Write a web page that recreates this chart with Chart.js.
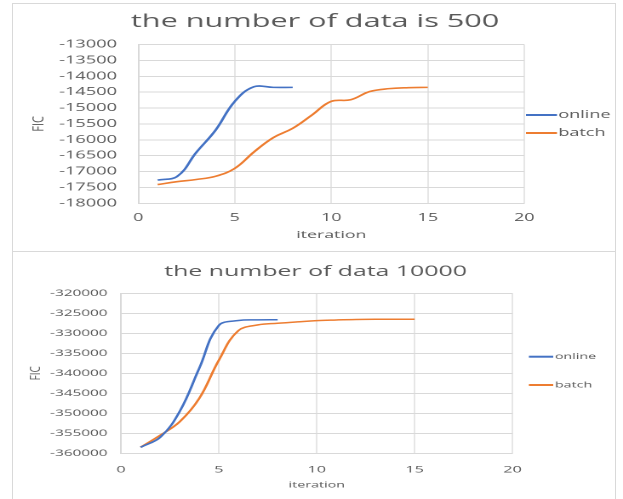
<!DOCTYPE html>
<html><head><meta charset="utf-8">
<script src="https://cdn.jsdelivr.net/npm/chart.js@4.4.1/dist/chart.umd.min.js"></script>
<style>
html,body{margin:0;padding:0;background:#fff;width:623px;height:499px;overflow:hidden;}
.wrap{position:absolute;left:0;width:366px;transform:scaleX(1.70219);transform-origin:0 0;}
#w1{top:0;height:252px}
#w2{top:252px;height:247px}
.frame{position:absolute;left:12px;top:3px;width:602px;height:520px;border:1px solid #d9d9d9;pointer-events:none}
.sep{position:absolute;left:12px;top:251px;width:604px;height:1px;background:#d9d9d9;pointer-events:none}
</style></head>
<body>
<div class="wrap" id="w1"><canvas id="c1" width="366" height="252"></canvas></div>
<div class="wrap" id="w2"><canvas id="c2" width="366" height="247"></canvas></div>
<div class="frame"></div><div class="sep"></div>
<script>
const SX = 623 / 366;
const seriesNames = ['online', 'batch'];
const seriesColors = ['#4472C4', '#ED7D31'];
const iterOnline = [1, 2, 3, 4, 5, 6, 7, 8];
const iterBatch = [1, 2, 3, 4, 5, 6, 7, 8, 9, 10, 11, 12, 13, 14, 15];
const fic500Online = [-17270, -17160, -16400, -15700, -14790, -14330, -14350, -14350];
const fic500Batch = [-17410, -17320, -17250, -17150, -16900, -16380, -15930, -15640, -15220, -14790, -14740, -14480, -14390, -14360, -14350];
const fic10000Online = [-358500, -356000, -349500, -338700, -328000, -326800, -326650, -326600];
const fic10000Batch = [-358500, -355500, -352100, -346250, -336700, -329300, -327900, -327500, -327150, -326830, -326670, -326550, -326500, -326500, -326500];
const xTicks = [0, 5, 10, 15, 20];
const yTicks500 = [-18000, -17500, -17000, -16500, -16000, -15500, -15000, -14500, -14000, -13500, -13000];
const yTicks10000 = [-360000, -355000, -350000, -345000, -340000, -335000, -330000, -325000, -320000];
const chartTitles = ['the number of data is 500', 'the number of data 10000'];
const xTitle = 'iteration';
const yTitle = 'FIC';

const TXT = '#595959', GRID = '#d9d9d9';
Chart.defaults.font.family = '"Open Sans", sans-serif';

const decor = {
  id: 'decor',
  afterDraw(chart, args, o) {
    const ctx = chart.ctx, ca = chart.chartArea;
    ctx.save();
    ctx.fillStyle = TXT;
    ctx.textAlign = 'center'; ctx.textBaseline = 'middle';
    ctx.font = o.titleSize + 'px "Open Sans"';
    ctx.fillText(o.title, o.titleX, o.titleY);
    chart.data.datasets.forEach((ds, i) => {
      const y = o.legendY[i];
      ctx.strokeStyle = ds.borderColor; ctx.lineWidth = 2;
      ctx.beginPath(); ctx.moveTo(o.legendX, y); ctx.lineTo(o.legendX + o.legendLen, y); ctx.stroke();
      ctx.textAlign = 'left';
      ctx.font = o.legendSize + 'px "Open Sans"';
      ctx.fillText(ds.label, o.legendX + o.legendLen + o.legendGap, y);
    });
    ctx.translate(o.ficX, (ca.top + ca.bottom) / 2);
    ctx.scale(1 / 1.25, 1);
    ctx.rotate(-Math.PI / 2);
    ctx.textAlign = 'center';
    ctx.font = o.ficSize + 'px "Open Sans"';
    ctx.fillText(yTitle, 0, 0);
    ctx.restore();
  }
};

function makeChart(id, c) {
  const mk = (xs, ys, i) => ({
    label: seriesNames[i],
    data: xs.map((x, k) => ({x: x, y: ys[k]})),
    borderColor: seriesColors[i], backgroundColor: seriesColors[i],
    borderWidth: c.lw, pointRadius: 0, tension: 0.4, fill: false
  });
  return new Chart(document.getElementById(id), {
    type: 'line',
    data: { datasets: [mk(iterOnline, c.online, 0), mk(iterBatch, c.batch, 1)] },
    options: {
      responsive: false, animation: false, devicePixelRatio: 2,
      layout: { padding: { left: 0, right: c.padRight, top: c.padTop, bottom: 0 } },
      plugins: { legend: { display: false }, tooltip: { enabled: false }, decor: c.decor },
      scales: {
        x: {
          type: 'linear', min: xTicks[0], max: xTicks[xTicks.length - 1],
          afterBuildTicks: s => { s.ticks = xTicks.map(v => ({value: v})); },
          afterFit: s => { s.height = c.xAxisH; },
          grid: { color: GRID, lineWidth: 0.65, drawTicks: false },
          border: { color: GRID, width: 0.65 },
          ticks: { color: TXT, font: { size: c.xTickSize }, padding: c.xTickPad, maxRotation: 0 },
          title: { display: true, text: xTitle, color: TXT, font: { size: c.xTitleSize }, padding: { top: 0, bottom: c.xTitlePad } }
        },
        y: {
          type: 'linear', min: c.yTicks[0], max: c.yTicks[c.yTicks.length - 1],
          afterBuildTicks: s => { s.ticks = c.yTicks.map(v => ({value: v})); },
          afterFit: s => { s.width = c.yAxisW; },
          grid: { color: GRID, lineWidth: 1, drawTicks: false },
          border: { color: GRID },
          ticks: { color: TXT, font: { size: c.yTickSize }, padding: c.yTickPad, callback: v => String(v) }
        }
      }
    },
    plugins: [decor]
  });
}

makeChart('c1', {
  online: fic500Online, batch: fic500Batch, yTicks: yTicks500, lw: 1.6,
  padRight: 58, padTop: 44.5, xAxisH: 48.7, yAxisW: 81.25,
  xTickSize: 10.5, xTickPad: 8.5, yTickSize: 10.7, yTickPad: 12.5,
  xTitleSize: 10.4, xTitlePad: 10.75,
  decor: { title: chartTitles[0], titleX: 185.1, titleY: 22, titleSize: 18,
           legendX: 309.0, legendLen: 18.2, legendGap: 0.8, legendY: [115, 133], legendSize: 10.6,
           ficX: 22.8, ficSize: 11 }
});
makeChart('c2', {
  online: fic10000Online, batch: fic10000Batch, yTicks: yTicks10000, lw: 1.5,
  padRight: 64.9, padTop: 41.3, xAxisH: 45.7, yAxisW: 71.1,
  xTickSize: 9.5, xTickPad: 11, yTickSize: 9, yTickPad: 7.9,
  xTitleSize: 8.4, xTitlePad: 9,
  decor: { title: chartTitles[1], titleX: 185.4, titleY: 19.7, titleSize: 14.6,
           legendX: 310.7, legendLen: 14.3, legendGap: 1, legendY: [104.7, 133], legendSize: 8.4,
           ficX: 21.1, ficSize: 10 }
});
</script>
</body></html>
